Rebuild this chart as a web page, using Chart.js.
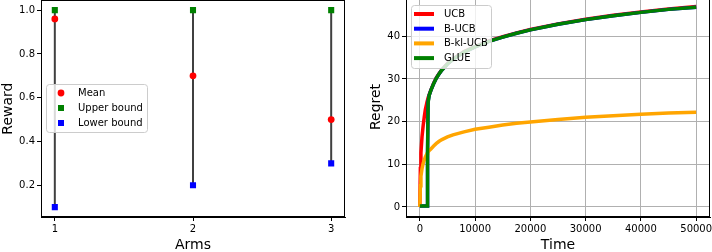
<!DOCTYPE html>
<html>
<head>
<meta charset="utf-8">
<script src="https://cdn.jsdelivr.net/npm/chart.js@4/dist/chart.umd.min.js"></script>
<style>
  html, body { margin: 0; padding: 0; background: #fff; }
  #wrap { position: relative; width: 712px; height: 252px; overflow: hidden; }
  #left { position: absolute; left: 0; top: -4px; }
  #right { position: absolute; left: 368px; top: -4px; }
</style>
</head>
<body>
<div id="wrap">
  <canvas id="left" width="356" height="256"></canvas>
  <canvas id="right" width="344" height="256"></canvas>
</div>
<script>
// left panel data
var arms = [1, 2, 3];
var meanReward = [0.96, 0.70, 0.50];
var upperBound = [1.0, 1.0, 1.0];
var lowerBound = [0.1, 0.2, 0.3];
var rewardTicks = [0.2, 0.4, 0.6, 0.8, 1.0];

// right panel data
var time = [0, 100, 200, 400, 600, 800, 1000, 1200, 1300, 1400, 1500, 1700, 2000, 2500, 3000, 3500, 4000,
            5000, 6000, 8000, 10000, 12500, 15000, 17500, 20000, 25000, 30000, 35000, 40000, 45000, 50000];
var ucb    = [0, 9, 12.7, 16.5, 19, 21, 22.8, 24, 24.6, 25.1, 25.6, 26.3, 27.4, 29.0, 30.3, 31.3, 32.2,
              33.6, 34.7, 36.4, 37.6, 38.9, 39.9, 40.8, 41.6, 42.9, 44.0, 44.9, 45.7, 46.4, 47.0];
var bUcb   = [0.2, 0.2, 0.2, 0.2, 0.2, 0.2, 0.2, 0.2, 0.2, 13, 24.7, 26.2, 27.3, 28.9, 30.2, 31.2, 32.1,
              33.5, 34.6, 36.3, 37.5, 38.8, 39.8, 40.7, 41.5, 42.8, 43.9, 44.8, 45.6, 46.3, 46.8];
var bKlUcb = [0, 5, 7.2, 9, 10.2, 11, 11.7, 12.2, 12.5, 12.7, 12.9, 13.2, 13.6, 14.3, 14.9, 15.4, 15.8,
              16.4, 16.9, 17.6, 18.2, 18.7, 19.2, 19.6, 19.9, 20.5, 21.0, 21.4, 21.7, 22.0, 22.2];
var glue   = [0.2, 0.2, 0.2, 0.2, 0.2, 0.2, 0.2, 0.2, 0.2, 12, 24.5, 26.2, 27.3, 28.9, 30.2, 31.2, 32.1,
              33.5, 34.6, 36.3, 37.5, 38.8, 39.8, 40.7, 41.5, 42.8, 43.9, 44.8, 45.6, 46.3, 46.8];
var timeTicks = [0, 10000, 20000, 30000, 40000, 50000];
var regretTicks = [0, 10, 20, 30, 40];

var FONT = 'DejaVu Sans';
Chart.defaults.font.family = FONT;
Chart.defaults.color = '#000';

function pts(xs, ys) {
    return xs.map(function (x, i) { return {x: x, y: ys[i]}; });
}

// full box round the plot area
var framePlugin = {
    id: 'frame',
    afterDraw: function (chart) {
        var a = chart.chartArea, ctx = chart.ctx;
        ctx.save();
        ctx.strokeStyle = '#000';
        ctx.lineWidth = 1;
        ctx.strokeRect(Math.round(a.left) + 0.5, Math.round(a.top) + 0.5,
                       Math.round(a.right - a.left) - 1, Math.round(a.bottom - a.top) - 1);
        ctx.restore();
    }
};

function roundBox(ctx, x, y, w, h, r) {
    ctx.beginPath();
    ctx.moveTo(x + r, y);
    ctx.lineTo(x + w - r, y);
    ctx.quadraticCurveTo(x + w, y, x + w, y + r);
    ctx.lineTo(x + w, y + h - r);
    ctx.quadraticCurveTo(x + w, y + h, x + w - r, y + h);
    ctx.lineTo(x + r, y + h);
    ctx.quadraticCurveTo(x, y + h, x, y + h - r);
    ctx.lineTo(x, y + r);
    ctx.quadraticCurveTo(x, y, x + r, y);
    ctx.closePath();
}

// matplotlib-like legend, box + entries (y measured on the page, canvas sits 4px higher)
function legendPlugin(box, items) {
    return {
        id: 'mlegend',
        afterDraw: function (chart) {
            var ctx = chart.ctx;
            var by = box.y + 4;
            ctx.save();
            roundBox(ctx, box.x + 0.5, by + 0.5, box.w, box.h, 3);
            ctx.fillStyle = 'rgba(255,255,255,0.8)';
            ctx.fill();
            ctx.strokeStyle = '#cccccc';
            ctx.lineWidth = 1;
            ctx.stroke();
            ctx.font = '10px ' + FONT;
            ctx.textBaseline = 'middle';
            items.forEach(function (it, i) {
                var y = by + box.first + i * box.step;
                ctx.fillStyle = it.color;
                ctx.strokeStyle = it.color;
                if (it.kind === 'circle') {
                    ctx.beginPath();
                    ctx.arc(box.x + box.mx, y, 3.4, 0, Math.PI * 2);
                    ctx.fill();
                } else if (it.kind === 'rect') {
                    ctx.fillRect(box.x + box.mx - 3, y - 3, 6, 6);
                } else {
                    ctx.lineWidth = 4;
                    ctx.beginPath();
                    ctx.moveTo(box.x + box.mx - 10, y);
                    ctx.lineTo(box.x + box.mx + 10, y);
                    ctx.stroke();
                }
                ctx.fillStyle = '#000';
                ctx.fillText(it.label, box.x + box.tx, y + 0.5);
            });
            ctx.restore();
        }
    };
}

function fixTicks(values, fmt) {
    return {
        afterBuildTicks: function (scale) {
            scale.ticks = values.map(function (v) { return {value: v}; });
        },
        ticks: {
            font: {size: 10},
            color: '#000',
            padding: 2,
            maxRotation: 0,
            autoSkip: false,
            callback: fmt
        }
    };
}

// pin the axis box sizes so the plot area lands where it does in the reference
function pinY(w) {
    return function (s) { s.width = w; s.paddingTop = 0; s.paddingBottom = 0; };
}
function pinX(h) {
    return function (s) { s.height = h; s.paddingLeft = 0; s.paddingRight = 0; };
}

var axisTitleFont = {size: 14};
var axisTitlePad = {top: 0, bottom: -2};

// ---------- left chart ----------
var errDatasets = arms.map(function (a, i) {
    return {
        data: [{x: a, y: lowerBound[i]}, {x: a, y: upperBound[i]}],
        showLine: true,
        borderColor: '#404040',
        borderWidth: 2,
        pointRadius: 0,
        order: 10
    };
});

var leftX = fixTicks(arms, function (v) { return String(v); });
leftX.type = 'linear';
leftX.min = 0.9;
leftX.max = 3.1;
leftX.grid = {drawOnChartArea: false, tickLength: 4, tickColor: '#000'};
leftX.border = {color: '#000', width: 1};
leftX.title = {display: true, text: 'Arms', font: axisTitleFont, color: '#000', padding: axisTitlePad};
leftX.afterFit = pinX(35);

var leftY = fixTicks(rewardTicks, function (v) { return v.toFixed(1); });
leftY.min = 0.055;
leftY.max = 1.045;
leftY.grid = {drawOnChartArea: false, tickLength: 4, tickColor: '#000'};
leftY.border = {color: '#000', width: 1};
leftY.title = {display: true, text: 'Reward', font: axisTitleFont, color: '#000', padding: 0};
leftY.afterFit = pinY(41);

new Chart(document.getElementById('left'), {
    type: 'scatter',
    data: {
        datasets: [
            {label: 'Mean', data: pts(arms, meanReward), pointStyle: 'circle', pointRadius: 3.4,
             backgroundColor: '#ff0000', borderWidth: 0, order: 1},
            {label: 'Upper bound', data: pts(arms, upperBound), pointStyle: 'rect', pointRadius: 4.3,
             backgroundColor: '#008000', borderWidth: 0, order: 2},
            {label: 'Lower bound', data: pts(arms, lowerBound), pointStyle: 'rect', pointRadius: 4.3,
             backgroundColor: '#0000ff', borderWidth: 0, order: 3}
        ].concat(errDatasets)
    },
    options: {
        responsive: false,
        devicePixelRatio: 1,
        animation: false,
        layout: {padding: {top: 1, right: 11, left: 0, bottom: 0}},
        plugins: {legend: {display: false}, tooltip: {enabled: false}},
        scales: {x: leftX, y: leftY}
    },
    plugins: [framePlugin, legendPlugin(
        {x: 46, y: 84, w: 101, h: 48, first: 9, step: 15, mx: 15, tx: 32},
        [{kind: 'circle', color: '#ff0000', label: 'Mean'},
         {kind: 'rect', color: '#008000', label: 'Upper bound'},
         {kind: 'rect', color: '#0000ff', label: 'Lower bound'}]
    )]
});

// ---------- right chart ----------
var rightX = fixTicks(timeTicks, function (v) { return String(v); });
rightX.type = 'linear';
rightX.min = -2500;
rightX.max = 52500;
rightX.grid = {color: '#b0b0b0', lineWidth: 1, tickLength: 4, tickColor: '#000'};
rightX.border = {color: '#000', width: 1};
rightX.title = {display: true, text: 'Time', font: axisTitleFont, color: '#000', padding: axisTitlePad};
rightX.afterFit = pinX(35);

var rightY = fixTicks(regretTicks, function (v) { return String(v); });
rightY.min = -2.35;
rightY.max = 49.2;
rightY.grid = {color: '#b0b0b0', lineWidth: 1, tickLength: 4, tickColor: '#000'};
rightY.border = {color: '#000', width: 1};
rightY.title = {display: true, text: 'Regret', font: axisTitleFont, color: '#000', padding: 0};
rightY.afterFit = pinY(38);

function line(label, ys, color, order) {
    return {label: label, data: pts(time, ys), borderColor: color, backgroundColor: color,
            borderWidth: 3.5, pointRadius: 0, tension: 0, fill: false, order: order};
}

new Chart(document.getElementById('right'), {
    type: 'line',
    data: {
        datasets: [
            line('UCB', ucb, '#ff0000', 4),
            line('B-UCB', bUcb, '#0000ff', 3),
            line('B-kl-UCB', bKlUcb, '#ffa500', 2),
            line('GLUE', glue, '#008000', 1)
        ]
    },
    options: {
        responsive: false,
        devicePixelRatio: 1,
        animation: false,
        layout: {padding: {top: 1, right: 2, left: 0, bottom: 0}},
        plugins: {legend: {display: false}, tooltip: {enabled: false}},
        scales: {x: rightX, y: rightY}
    },
    plugins: [framePlugin, legendPlugin(
        {x: 43, y: 5, w: 80, h: 63, first: 9, step: 14.7, mx: 13, tx: 33},
        [{kind: 'line', color: '#ff0000', label: 'UCB'},
         {kind: 'line', color: '#0000ff', label: 'B-UCB'},
         {kind: 'line', color: '#ffa500', label: 'B-kl-UCB'},
         {kind: 'line', color: '#008000', label: 'GLUE'}]
    )]
});
</script>
</body>
</html>
